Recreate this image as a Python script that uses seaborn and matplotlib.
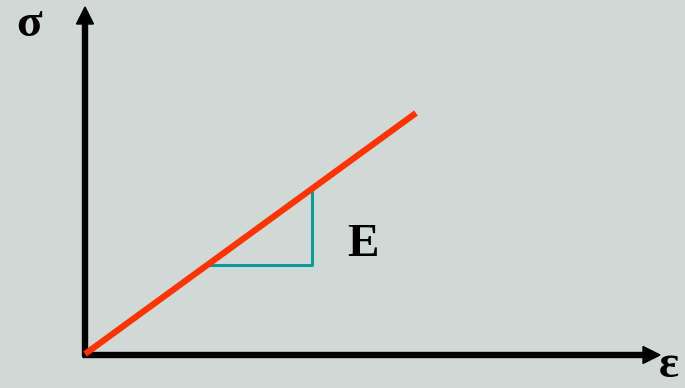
import matplotlib
matplotlib.use("Agg")
import matplotlib.pyplot as plt
import seaborn as sns
import pandas as pd

# data (arbitrary units, origin at the corner of the axes)
strain = [0, 331]
stress = [0, 241]
tri_x = [121, 227, 227]
tri_y = [89, 89, 165]
x_axis_len = 575
y_axis_len = 347

sns.set_style("white", {"axes.facecolor": "#d0d9d6", "figure.facecolor": "#d0d9d6"})
plt.rcParams['font.family'] = ['Liberation Serif', 'DejaVu Serif']

fig = plt.figure(figsize=(6.85, 3.88), dpi=100)
ax = fig.add_axes([0, 0, 1, 1])
ax.set_xlim(-85, 600)
ax.set_ylim(-34, 354)
ax.axis('off')

line_df = pd.DataFrame({"x": strain, "y": stress})
tri_df = pd.DataFrame({"x": tri_x, "y": tri_y})

# axes arrows
ax.arrow(0, -2, 0, y_axis_len + 2, width=5, head_width=17, head_length=17,
         length_includes_head=True, color="black", zorder=2)
ax.arrow(-2, -1, x_axis_len + 2, 0, width=5, head_width=17, head_length=17,
         length_includes_head=True, color="black", zorder=2)

# slope triangle (no aggregation, keep point order)
sns.lineplot(data=tri_df, x="x", y="y", sort=False, estimator=None,
             color="#0f9a9a", lw=2.2, ax=ax, zorder=3)
sns.lineplot(data=line_df, x="x", y="y", estimator=None, color="#ff3300",
             lw=4.5, ax=ax, zorder=4, solid_capstyle="butt")

txt = dict(fontsize=34, fontweight="bold", ha="center", va="center", color="black")
ax.text(-56, 329, "σ", **txt)
ax.text(278, 109, "E", **txt)
ax.text(584, -12, "ε", **txt)

fig.savefig("out.png", dpi=100, facecolor=fig.get_facecolor())
